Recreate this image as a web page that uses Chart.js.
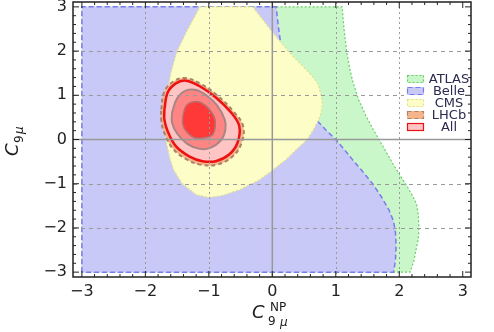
<!DOCTYPE html>
<html>
<head>
<meta charset="utf-8">
<script src="https://cdn.jsdelivr.net/npm/chart.js@4.4.1/dist/chart.umd.min.js"></script>
<style>
  html, body { margin: 0; background: #fff; }
  #wrap { width: 494px; height: 332px; }
</style>
</head>
<body>
<div id="wrap"><canvas id="fitChart"></canvas></div>
<script>
// axis ticks
const xTicks = [-3, -2, -1, 0, 1, 2, 3];
const yTicks = [-3, -2, -1, 0, 1, 2, 3];
const gridValues = [-2, -1, 1, 2];

// ATLAS allowed region (left edge to right boundary)
const atlasX = [-3, -3, 1.10, 1.13, 1.17, 1.22, 1.27, 1.36, 1.48, 1.58, 1.68, 1.80, 1.92, 2.03, 2.12, 2.20, 2.27, 2.30, 2.31, 2.30, 2.27, 2.23, 2.17, -3];
const atlasY = [-3, 3, 3, 2.5, 2.0, 1.6, 1.3, 0.9, 0.52, 0.25, 0, -0.3, -0.6, -0.85, -1.05, -1.25, -1.45, -1.7, -2.0, -2.25, -2.45, -2.75, -3, -3];

// Belle
const belleX = [-3, -3, 0.06, 0.10, 0.15, 0.20, 0.30, 0.43, 0.55, 0.69, 0.84, 1.00, 1.13, 1.26, 1.42, 1.58, 1.72, 1.84, 1.91, 1.94, 1.95, 1.94, 1.91, -3];
const belleY = [-3, 3, 3, 2.5, 2.0, 1.6, 1.3, 1.0, 0.72, 0.45, 0.22, 0, -0.22, -0.45, -0.72, -1.0, -1.3, -1.6, -1.85, -2.1, -2.4, -2.73, -3, -3];

// CMS
const cmsX = [-1.14, -0.31, -0.16, 0.0, 0.25, 0.45, 0.62, 0.72, 0.77, 0.79, 0.76, 0.71, 0.64, 0.55, 0.40, 0.22, 0.0, -0.20, -0.52, -0.80, -1.00, -1.20, -1.42, -1.55, -1.61, -1.68, -1.70, -1.66, -1.60, -1.50, -1.33, -1.14];
const cmsY = [3, 3, 2.73, 2.43, 2.0, 1.7, 1.45, 1.25, 1.0, 0.8, 0.55, 0.39, 0.2, 0, -0.2, -0.45, -0.7, -0.91, -1.14, -1.27, -1.31, -1.25, -1.0, -0.7, -0.45, 0, 0.5, 1.0, 1.5, 2.0, 2.5, 3];

// LHCb
const lhcbX = [-1.75, -1.70, -1.55, -1.37, -1.13, -0.86, -0.61, -0.46, -0.49, -0.64, -0.88, -1.12, -1.35, -1.57, -1.71, -1.75, -1.75];
const lhcbY = [0.68, 1.09, 1.32, 1.39, 1.26, 0.99, 0.63, 0.30, -0.10, -0.40, -0.57, -0.57, -0.45, -0.20, 0.18, 0.45, 0.68];

// All (3 sigma, 2 sigma, 1 sigma)
const allX = [-1.70, -1.65, -1.52, -1.36, -1.15, -0.89, -0.65, -0.52, -0.55, -0.68, -0.89, -1.10, -1.31, -1.52, -1.65, -1.70, -1.70];
const allY = [0.68, 1.06, 1.27, 1.33, 1.21, 0.95, 0.61, 0.30, -0.08, -0.34, -0.49, -0.49, -0.38, -0.15, 0.19, 0.45, 0.68];
const all2X = [-1.58, -1.50, -1.37, -1.20, -1.03, -0.87, -0.75, -0.74, -0.81, -0.98, -1.15, -1.34, -1.50, -1.58, -1.58];
const all2Y = [0.61, 0.93, 1.10, 1.12, 0.99, 0.77, 0.45, 0.22, -0.02, -0.19, -0.21, -0.10, 0.14, 0.38, 0.61];
const all1X = [-1.41, -1.36, -1.26, -1.12, -0.99, -0.91, -0.90, -0.94, -1.07, -1.23, -1.36, -1.41, -1.41];
const all1Y = [0.53, 0.76, 0.85, 0.83, 0.68, 0.49, 0.30, 0.11, 0.04, 0.04, 0.19, 0.34, 0.53];

const legendLabels = ["ATLAS", "Belle", "CMS", "LHCb", "All"];

function pts(xs, ys) {
  return xs.map((x, i) => ({ x: x, y: ys[i] }));
}

function region(label, xs, ys, bg, border, dash, width, order, tension) {
  return {
    label: label,
    data: pts(xs, ys),
    showLine: true,
    fill: "shape",
    backgroundColor: bg,
    borderColor: border,
    borderDash: dash,
    borderWidth: width,
    pointRadius: 0,
    tension: tension,
    order: order,
  };
}

const fmt = (v) => (v < 0 ? "\u2212" + Math.abs(v) : String(v));

function line(ctx, x1, y1, x2, y2) {
  ctx.beginPath();
  ctx.moveTo(x1, y1);
  ctx.lineTo(x2, y2);
  ctx.stroke();
}

// grid, zero axes, legend, frame and titles on top of the filled regions
const overlay = {
  id: "overlay",
  afterDatasetsDraw(chart) {
    const { ctx, chartArea: a } = chart;
    const sx = chart.scales.x;
    const sy = chart.scales.y;
    ctx.save();

    ctx.strokeStyle = "#9a9a9a";
    ctx.lineWidth = 1;
    ctx.setLineDash([4, 4]);
    gridValues.forEach((v) => {
      const py = Math.round(sy.getPixelForValue(v)) + 0.5;
      line(ctx, a.left, py, a.right, py);
    });
    ctx.setLineDash([2, 3]);
    gridValues.forEach((v) => {
      const px = Math.round(sx.getPixelForValue(v)) + 0.5;
      line(ctx, px, a.top, px, a.bottom);
    });
    ctx.setLineDash([]);
    ctx.strokeStyle = "#999";
    ctx.lineWidth = 1.5;
    line(ctx, a.left, sy.getPixelForValue(0), a.right, sy.getPixelForValue(0));
    line(ctx, sx.getPixelForValue(0), a.top, sx.getPixelForValue(0), a.bottom);

    // legend
    ctx.fillStyle = "#fff";
    ctx.fillRect(404, 71, a.right - 404, 62);
    ctx.font = "13px 'DejaVu Sans'";
    ctx.textAlign = "center";
    ctx.textBaseline = "middle";
    legendLabels.forEach((name, i) => {
      const ds = chart.data.datasets.find((d) => d.label === name);
      const cy = 79 + i * 12;
      ctx.fillStyle = ds.backgroundColor;
      ctx.fillRect(407, cy - 4, 17, 8);
      ctx.strokeStyle = ds.borderColor;
      ctx.lineWidth = 1.2;
      ctx.setLineDash(ds.borderDash || []);
      ctx.strokeRect(407.5, cy - 3.5, 16, 7);
      ctx.setLineDash([]);
      ctx.fillStyle = "#2a2a4e";
      ctx.fillText(name, 449, cy + 1);
    });

    // frame with inward ticks
    ctx.strokeStyle = "#222";
    ctx.lineWidth = 1.5;
    ctx.strokeRect(a.left, a.top, a.right - a.left, a.bottom - a.top);
    ctx.lineWidth = 1;
    for (let k = -15; k <= 15; k++) {
      const v = k / 5;
      const len = k % 5 === 0 ? 6 : 3;
      const px = sx.getPixelForValue(v);
      line(ctx, px, a.bottom, px, a.bottom - len);
      line(ctx, px, a.top, px, a.top + len);
      const py = sy.getPixelForValue(v);
      line(ctx, a.left, py, a.left + len, py);
      line(ctx, a.right, py, a.right - len, py);
    }

    // axis titles
    ctx.fillStyle = "#1a1a1a";
    ctx.textAlign = "left";
    ctx.textBaseline = "alphabetic";
    ctx.font = "italic 18px 'DejaVu Sans'";
    ctx.fillText("C", 252, 318);
    ctx.font = "12px 'DejaVu Sans'";
    ctx.fillText("NP", 270, 311);
    ctx.fillText("9", 268, 325);
    ctx.font = "italic 12px 'DejaVu Sans'";
    ctx.fillText("\u03bc", 280, 326);

    ctx.save();
    ctx.translate(18, 156);
    ctx.rotate(-Math.PI / 2);
    ctx.font = "italic 18px 'DejaVu Sans'";
    ctx.fillText("C", 0, 0);
    ctx.font = "12px 'DejaVu Sans'";
    ctx.fillText("9", 13, 5);
    ctx.font = "italic 12px 'DejaVu Sans'";
    ctx.fillText("\u03bc", 22, 5);
    ctx.restore();

    ctx.restore();
  },
};

const ctx = document.getElementById("fitChart").getContext("2d");
const fitChart = new Chart(ctx, {
  type: "scatter",
  data: {
    datasets: [
      region("ATLAS", atlasX, atlasY, "#c9f7c9", "#6ccc6c", [2, 2], 1.2, 6, 0),
      region("Belle", belleX, belleY, "#c9c9f7", "#7a7aee", [5, 3], 1.5, 5, 0),
      region("CMS", cmsX, cmsY, "#fdfdc7", "#e0e08a", [2, 2], 1.2, 4, 0),
      region("LHCb", lhcbX, lhcbY, "#f5b48c", "#a98268", [4, 3], 2, 3, 0.4),
      region("All", allX, allY, "#ffc4c4", "#ee1111", [], 2.5, 2, 0.4),
      region("All 2", all2X, all2Y, "#ff8585", "#a98585", [], 2, 1, 0.4),
      region("All 1", all1X, all1Y, "#ff3838", "#b87070", [], 1.5, 0, 0.4),
    ],
  },
  options: {
    responsive: true,
    maintainAspectRatio: false,
    animation: false,
    layout: { padding: { top: 2, right: 23, left: 0, bottom: 0 } },
    plugins: {
      legend: { display: false },
      tooltip: { enabled: false },
    },
    scales: {
      x: {
        type: "linear",
        min: -3.14,
        max: 3.13,
        grid: { display: false, drawTicks: false },
        border: { display: false },
        afterBuildTicks: (s) => { s.ticks = xTicks.map((v) => ({ value: v })); },
        afterFit: (s) => {
          s.height = 55;
          s.paddingLeft = 0;
          s.paddingRight = 0;
        },
        ticks: {
          padding: 5,
          color: "#222",
          font: { family: "DejaVu Sans", size: 16 },
          callback: fmt,
        },
      },
      y: {
        type: "linear",
        min: -3.11,
        max: 3.11,
        grid: { display: false, drawTicks: false },
        border: { display: false },
        afterBuildTicks: (s) => { s.ticks = yTicks.map((v) => ({ value: v })); },
        afterFit: (s) => {
          s.width = 73;
          s.paddingTop = 0;
          s.paddingBottom = 0;
        },
        ticks: {
          padding: 6,
          color: "#222",
          font: { family: "DejaVu Sans", size: 16 },
          callback: fmt,
        },
      },
    },
  },
  plugins: [overlay],
});
</script>
</body>
</html>
